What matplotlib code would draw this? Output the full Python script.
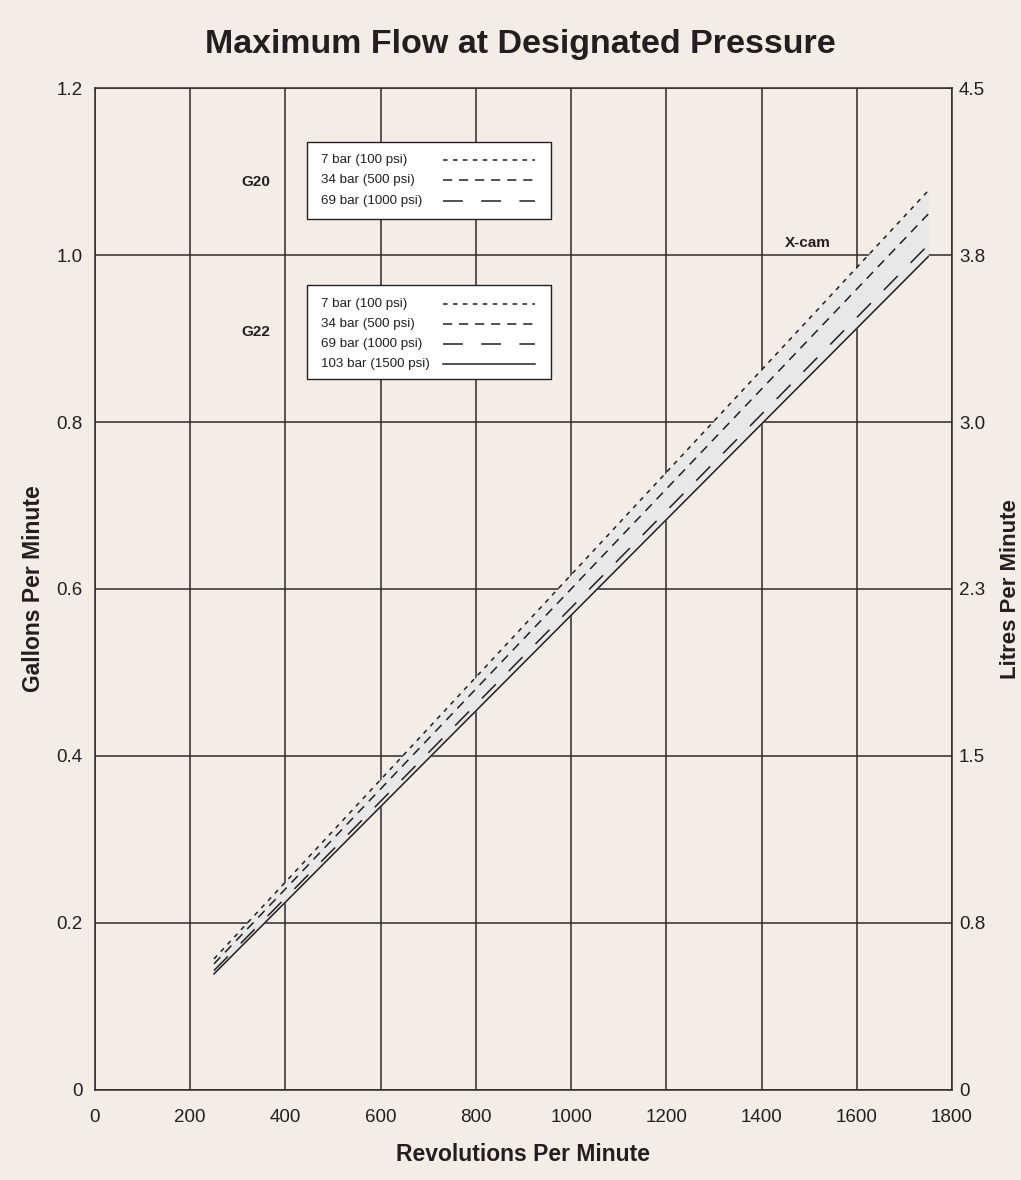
import matplotlib.pyplot as plt
from matplotlib.patches import Rectangle

# datos
rpm = [250, 1750]
flujo_7bar = [0.157, 1.077]
flujo_34bar = [0.151, 1.049]
flujo_69bar = [0.143, 1.012]
flujo_103bar = [0.139, 0.998]

etiquetas_presion = ['7 bar (100 psi)', '34 bar (500 psi)', '69 bar (1000 psi)', '103 bar (1500 psi)']
gal_ticks = [0, 0.2, 0.4, 0.6, 0.8, 1.0, 1.2]
gal_labels = ['0', '0.2', '0.4', '0.6', '0.8', '1.0', '1.2']
litros_labels = ['0', '0.8', '1.5', '2.3', '3.0', '3.8', '4.5']
rpm_ticks = [0, 200, 400, 600, 800, 1000, 1200, 1400, 1600, 1800]

fondo = '#f3ece7'
oscuro = '#231f20'

plt.rcParams['font.family'] = ['Liberation Sans', 'DejaVu Sans']

fig = plt.figure(figsize=(10.21, 11.80), dpi=100, facecolor=fondo)
ax = fig.add_axes([0.0930, 0.0763, 0.8394, 0.8491])
ax.set_facecolor(fondo)

ax.fill_between(rpm, flujo_103bar, flujo_7bar, color='#e8e8e8', zorder=1, linewidth=0)
estilos = [(0, (3, 3.5)), (0, (6, 4.5)), (0, (13, 12)), '-']
series = [flujo_7bar, flujo_34bar, flujo_69bar, flujo_103bar]
for serie, est in zip(series, estilos):
    ax.plot(rpm, serie, color=oscuro, linewidth=1.1, linestyle=est, zorder=3)

ax.set_xlim(0, 1800)
ax.set_ylim(0, 1.2)
ax.set_xticks(rpm_ticks)
ax.set_yticks(gal_ticks)
ax.set_yticklabels(gal_labels)
ax.grid(True, color='#2e292a', linewidth=1.1, zorder=0)
ax.set_axisbelow(True)
for s in ax.spines.values():
    s.set_color('#2e292a')
    s.set_linewidth(1.1)
ax.tick_params(axis='y', length=0, pad=9, labelsize=13.5, labelcolor=oscuro)
ax.tick_params(axis='x', length=0, pad=14, labelsize=13.5, labelcolor=oscuro)

ax2 = ax.twinx()
ax2.set_ylim(0, 1.2)
ax2.set_yticks(gal_ticks)
ax2.set_yticklabels(litros_labels)
ax2.tick_params(axis='y', length=0, pad=5, labelsize=13.5, labelcolor=oscuro)
for s in ax2.spines.values():
    s.set_visible(False)

ax.set_xlabel('Revolutions Per Minute', fontsize=16.5, fontweight='bold', color=oscuro, labelpad=12)
ax.set_ylabel('Gallons Per Minute', fontsize=16.5, fontweight='bold', color=oscuro, labelpad=8)
ax2.set_ylabel('Litres Per Minute', fontsize=16, fontweight='bold', color=oscuro, labelpad=10.5)

fig.text(0.51, 0.962, 'Maximum Flow at Designated Pressure', ha='center', va='center',
         fontsize=24.5, fontweight='bold', color=oscuro)


# cuadros de leyenda dibujados a mano (texto a la izquierda, muestra a la derecha)
def leyenda(x0, x1, y0, y1, filas_y, n):
    ax2.add_patch(Rectangle((x0, y0), x1 - x0, y1 - y0, transform=ax.transAxes,
                            facecolor='white', edgecolor=oscuro, linewidth=1.0,
                            zorder=5, clip_on=False))
    for fy, lab, est in zip(filas_y[:n], etiquetas_presion[:n], estilos[:n]):
        ax2.text(0.2637, fy, lab, transform=ax.transAxes, fontsize=9.6, color=oscuro,
                 ha='left', va='center', zorder=6)
        ax2.plot([0.4061, 0.5134], [fy, fy], transform=ax.transAxes, color=oscuro,
                 linewidth=1.1, linestyle=est, zorder=6, clip_on=False)


leyenda(0.2474, 0.5321, 0.8693, 0.9461, [0.9281, 0.9082, 0.8872], 3)
leyenda(0.2474, 0.5321, 0.7096, 0.8034, [0.7844, 0.7645, 0.7445, 0.7245], 4)

ax.text(338, 1.087, 'G20', fontsize=11, fontweight='bold', color=oscuro, ha='center', va='center')
ax.text(338, 0.908, 'G22', fontsize=11, fontweight='bold', color=oscuro, ha='center', va='center')
ax.text(1498, 1.014, 'X-cam', fontsize=11, fontweight='bold', color=oscuro, ha='center', va='center')

fig.savefig('out.png', dpi=100, facecolor=fondo)
